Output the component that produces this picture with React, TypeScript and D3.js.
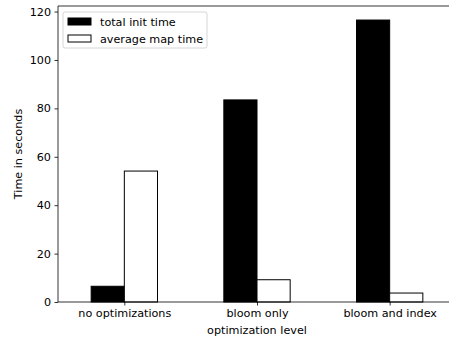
import React, { useEffect, useRef } from 'react';
import * as d3 from 'd3';

const categories = ['no optimizations', 'bloom only', 'bloom and index'];
const totalInitTime = [6.5, 83.5, 116.5];
const averageMapTime = [54.1, 9.2, 3.7];
const yTicks = [0, 20, 40, 60, 80, 100, 120];
const seriesNames = ['total init time', 'average map time'];

const width = 449;
const height = 341;

const App = () => {
  const svgRef = useRef<SVGSVGElement>(null);

  useEffect(() => {
    const margin = { top: 6, right: -7, bottom: 39, left: 58 };
    const chartWidth = width - margin.left - margin.right;
    const chartHeight = height - margin.top - margin.bottom;
    const font = 'DejaVu Sans, sans-serif';

    const root = d3.select(svgRef.current);
    root.selectAll('*').remove();
    const svg = root.append('g').attr('transform', `translate(${margin.left},${margin.top})`);

    const xScale = d3.scaleLinear().domain([-0.5, 2.5]).range([0, chartWidth]);
    const yScale = d3.scaleLinear().domain([0, 122.3]).range([chartHeight, 0]);
    const barW = xScale(0.25) - xScale(0);

    // bars
    svg.selectAll('rect.init')
      .data(totalInitTime)
      .join('rect')
      .attr('class', 'init')
      .attr('x', (d, i) => xScale(i - 0.25))
      .attr('y', d => yScale(d))
      .attr('width', barW)
      .attr('height', d => yScale(0) - yScale(d))
      .attr('fill', '#000')
      .attr('stroke', '#000')
      .attr('stroke-width', 1);

    svg.selectAll('rect.map')
      .data(averageMapTime)
      .join('rect')
      .attr('class', 'map')
      .attr('x', (d, i) => xScale(i))
      .attr('y', d => yScale(d))
      .attr('width', barW)
      .attr('height', d => yScale(0) - yScale(d))
      .attr('fill', '#fff')
      .attr('stroke', '#000')
      .attr('stroke-width', 1);

    // axes
    const xAxis = svg.append('g')
      .attr('transform', `translate(0,${chartHeight})`)
      .call(d3.axisBottom(xScale).tickValues([0, 1, 2]).tickFormat((d) => categories[d as number]).tickSize(3.5).tickPadding(3.5));
    const yAxis = svg.append('g')
      .call(d3.axisLeft(yScale).tickValues(yTicks).tickSize(3.5).tickPadding(3.5));

    [xAxis, yAxis].forEach(a => {
      a.select('.domain').remove();
      a.selectAll('text').style('font-family', font).style('font-size', '11.2px').style('fill', '#000');
      a.selectAll('.tick line').attr('stroke', '#000').attr('stroke-width', 0.8);
    });

    // spines
    svg.append('line').attr('x1', 0).attr('x2', 0).attr('y1', 0).attr('y2', chartHeight)
      .attr('stroke', '#000').attr('stroke-width', 0.8);
    svg.append('line').attr('x1', 0).attr('x2', chartWidth).attr('y1', chartHeight).attr('y2', chartHeight)
      .attr('stroke', '#000').attr('stroke-width', 0.8);
    svg.append('line').attr('x1', 0).attr('x2', chartWidth).attr('y1', 0).attr('y2', 0)
      .attr('stroke', '#000').attr('stroke-width', 0.8);

    // axis labels
    svg.append('text')
      .attr('x', xScale(1))
      .attr('y', chartHeight + 32)
      .attr('text-anchor', 'middle')
      .style('font-family', font).style('font-size', '11.2px')
      .text('optimization level');
    svg.append('text')
      .attr('transform', `translate(${-36},${chartHeight / 2}) rotate(-90)`)
      .attr('text-anchor', 'middle')
      .style('font-family', font).style('font-size', '11.2px')
      .text('Time in seconds');

    // legend
    const legend = svg.append('g').attr('transform', 'translate(5,6)');
    legend.append('rect')
      .attr('width', 144).attr('height', 36).attr('rx', 2)
      .attr('fill', '#fff').attr('stroke', '#ccc').attr('stroke-width', 0.8);
    seriesNames.forEach((name, i) => {
      const row = legend.append('g').attr('transform', `translate(5,${5 + i * 17})`);
      row.append('rect')
        .attr('width', 23).attr('height', 7).attr('y', 1)
        .attr('fill', i === 0 ? '#000' : '#fff')
        .attr('stroke', '#000').attr('stroke-width', 1);
      row.append('text')
        .attr('x', 32).attr('y', 9)
        .style('font-family', font).style('font-size', '11.2px')
        .text(name);
    });
  }, []);

  return <svg ref={svgRef} width={width} height={height} style={{ position: 'absolute', left: 0, top: 0 }}></svg>;
};

export default App;
